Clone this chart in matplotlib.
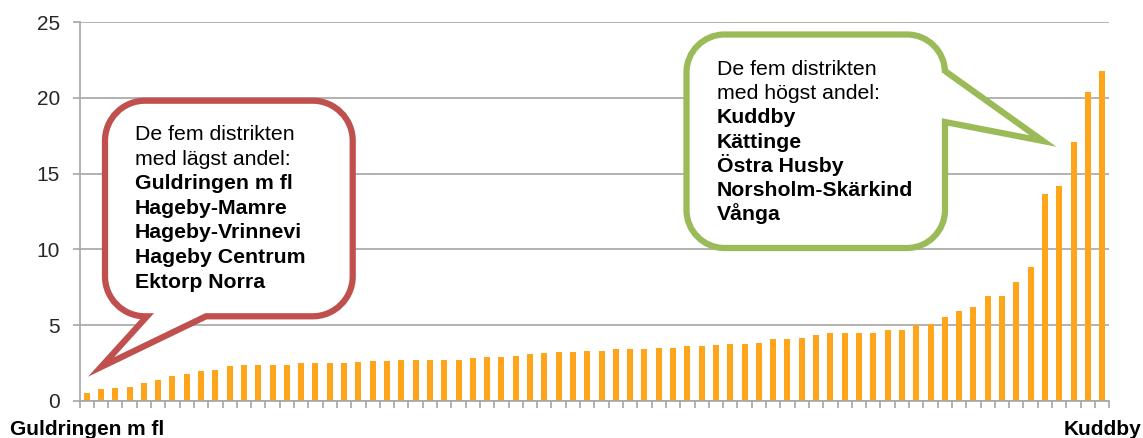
import matplotlib

matplotlib.use("Agg")
import matplotlib.pyplot as plt
from matplotlib.patches import PathPatch
from matplotlib.path import Path
from matplotlib.transforms import Affine2D

plt.rcParams["font.family"] = ["Liberation Sans", "DejaVu Sans"]

# share per district, sorted ascending
values = [
    0.53, 0.77, 0.86, 0.95, 1.21, 1.36, 1.63, 1.80, 1.96, 2.04,
    2.31, 2.40, 2.40, 2.40, 2.40, 2.48, 2.48, 2.48, 2.48, 2.55,
    2.64, 2.64, 2.72, 2.73, 2.73, 2.73, 2.73, 2.82, 2.91, 2.91,
    3.00, 3.09, 3.18, 3.24, 3.24, 3.33, 3.33, 3.42, 3.42, 3.42,
    3.51, 3.51, 3.60, 3.60, 3.69, 3.78, 3.78, 3.84, 4.08, 4.08,
    4.17, 4.35, 4.50, 4.50, 4.50, 4.50, 4.68, 4.68, 4.99, 5.10,
    5.52, 5.96, 6.20, 6.95, 6.95, 7.82, 8.82, 13.63, 14.15, 17.10,
    20.40, 21.76,
]
first_label = "Guldringen m fl"
last_label = "Kuddby"
y_ticks = [0, 5, 10, 15, 20, 25]

low_header = ["De fem distrikten", "med lägst andel:"]
low_names = ["Guldringen m fl", "Hageby-Mamre", "Hageby-Vrinnevi", "Hageby Centrum", "Ektorp Norra"]
high_header = ["De fem distrikten", "med högst andel:"]
high_names = ["Kuddby", "Kättinge", "Östra Husby", "Norsholm-Skärkind", "Vånga"]

W, H = 1143, 438
BAR = "#FFA51C"
GRID = "#A6A6A6"
RED = "#C0504D"
GREEN = "#9BBB59"

fig = plt.figure(figsize=(W / 100, H / 100), dpi=100)
ax = fig.add_axes([79.5 / W, 1 - 401 / H, (1109.3 - 79.5) / W, (401 - 22) / H])

x = list(range(len(values)))
ax.bar(x, values, width=0.42, color=BAR, zorder=2)

ax.set_xlim(-0.5, len(values) - 0.5)
ax.set_ylim(0, 25)
ax.set_yticks(y_ticks)
ax.tick_params(axis="y", labelsize=15, colors=GRID, labelcolor="#262626", length=5, width=1.2, pad=9)
ax.yaxis.grid(True, color=GRID, linewidth=1.2, zorder=0)
ax.set_axisbelow(True)

# category boundaries carry the tick marks, only the two ends get a label
ax.set_xticks([i - 0.5 for i in range(len(values) + 1)])
ax.set_xticklabels([])
ax.tick_params(axis="x", which="major", colors=GRID, length=5, width=1.2)
ax.set_xticks([0, len(values) - 1], minor=True)
ax.set_xticklabels([first_label, last_label], minor=True, fontsize=15, fontweight="bold")
ax.tick_params(axis="x", which="minor", length=0, pad=13.5)

for side in ("top", "right"):
    ax.spines[side].set_visible(False)
for side in ("left", "bottom"):
    ax.spines[side].set_color(GRID)
    ax.spines[side].set_linewidth(1.2)

# image pixel coords (y down) -> figure
px = Affine2D().scale(1 / W, -1 / H).translate(0, 1) + fig.transFigure


def bubble(x0, y0, x1, y1, r, side, a, b, tip):
    k = 0.5523 * r
    M, L, C = Path.MOVETO, Path.LINETO, Path.CURVE4
    v = [(x0 + r, y0)]
    c = [M]
    v += [(x1 - r, y0), (x1 - r + k, y0), (x1, y0 + r - k), (x1, y0 + r)]
    c += [L, C, C, C]
    if side == "right":
        v += [(x1, a), tip, (x1, b)]
        c += [L, L, L]
    v += [(x1, y1 - r), (x1, y1 - r + k), (x1 - r + k, y1), (x1 - r, y1)]
    c += [L, C, C, C]
    if side == "bottom":
        v += [(b, y1), tip, (a, y1)]
        c += [L, L, L]
    v += [(x0 + r, y1), (x0 + r - k, y1), (x0, y1 - r + k), (x0, y1 - r)]
    c += [L, C, C, C]
    v += [(x0, y0 + r), (x0, y0 + r - k), (x0 + r - k, y0), (x0 + r, y0)]
    c += [L, C, C, C]
    v.append((x0 + r, y0))
    c.append(Path.CLOSEPOLY)
    return Path(v, c)


red = bubble(105, 100.7, 352.7, 316.3, 40, "bottom", 147, 206, (101, 367))
fig.patches.append(PathPatch(red, transform=px, facecolor="white", edgecolor=RED,
                             linewidth=4.5, joinstyle="miter", zorder=5))
green = bubble(686.5, 34.5, 945, 248, 38, "right", 71, 122, (1043, 141))
fig.patches.append(PathPatch(green, transform=px, facecolor="white", edgecolor=GREEN,
                             linewidth=4.5, joinstyle="miter", zorder=5))


def bubble_text(x0, y0, step, header, names):
    for i, line in enumerate(header + names):
        fig.text(x0, y0 + i * step, line, transform=px, fontsize=15.3, va="baseline",
                 fontweight="bold" if i >= len(header) else "normal", color="black", zorder=6)


bubble_text(135, 140, 24.6, low_header, low_names)
bubble_text(717, 75, 24.2, high_header, high_names)

fig.savefig("out.png", dpi=100, facecolor="white")
